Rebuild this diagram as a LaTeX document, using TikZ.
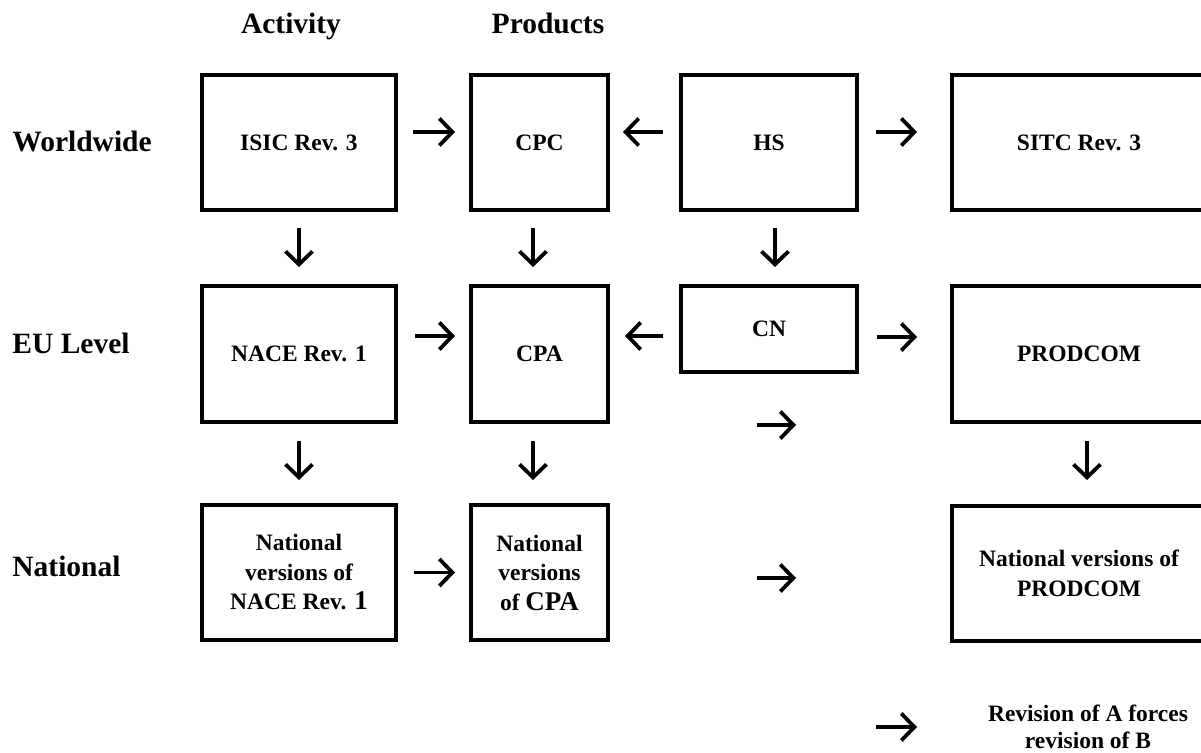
\documentclass[tikz,border=0pt]{standalone}
\usepackage{fontspec}
\setmainfont{Liberation Serif}
\usetikzlibrary{arrows.meta}
\begin{document}
\begin{tikzpicture}[x=0.5pt,y=-0.5pt,
  box/.style={draw, line width=1.7pt, inner sep=0pt, outer sep=0pt, align=center,
    font=\fontsize{11.75}{14.75}\selectfont\bfseries},
  txt/.style={inner sep=0pt, align=center, font=\fontsize{11.75}{13.5}\selectfont\bfseries},
  lbl/.style={inner sep=0pt, font=\fontsize{14.75}{17}\selectfont\bfseries},
  arr/.style={line width=1.9pt, -{Straight Barb[length=6.5pt,width=13.5pt]}},
  wide/.style={minimum width=97pt},
  narrow/.style={minimum width=68.5pt},
  mid/.style={minimum width=88pt},
  big/.style={minimum width=127pt},
  tall/.style={minimum height=67.5pt}
]
\useasboundingbox (0,0) rectangle (1201,753);
\clip (0,0) rectangle (1201,753);
\fill[white] (0,0) rectangle (1201,753);

% headers and row labels
\node[lbl, anchor=base] (act) at (291,34) {Activity};
\node[lbl, anchor=base] (prod) at (548,34) {Products};
\node[lbl, anchor=base west] (ww) at (12,152) {Worldwide};
\node[lbl, anchor=base west] (eu) at (12,354) {EU Level};
\node[lbl, anchor=base west] (nat) at (12,577) {National};

% row 1
\node[box, wide, tall] (isic) at (299,142.5) {ISIC Rev. 3};
\node[box, narrow, tall] (cpc) at (539.5,142.5) {CPC};
\node[box, mid, tall] (hs) at (769,142.5) {HS};
\node[box, big, tall] (sitc) at (1079,142.5) {SITC Rev. 3};

% row 2
\node[box, wide, minimum height=68pt] (nace) at (299,354) {NACE Rev. 1};
\node[box, narrow, minimum height=68pt] (cpa) at (539.5,354) {CPA};
\node[box, mid, minimum height=43pt] (cn) at (769,329) {CN};
\node[box, big, minimum height=68pt] (prodcom) at (1079,354) {PRODCOM};

% row 3
\node[box, wide, tall] (nnace) at (299,572.5)
  {National\\versions of\\NACE Rev. {\fontsize{13.5}{14.75}\selectfont 1}};
\node[box, narrow, tall] (ncpa) at (539.5,572.5)
  {National\\versions\\of {\fontsize{13.5}{14.75}\selectfont CPA}};
\node[box, big, tall] (nprod) at (1079,573.5) {National versions of\\PRODCOM};

% legend
\node[txt] (leg) at (1088,727) {Revision of A forces\\revision of B};

% free arrow end points
\coordinate (f1a) at (757,425);
\coordinate (f1b) at (796,425);
\coordinate (f2a) at (757,578);
\coordinate (f2b) at (796,578);
\coordinate (la) at (876,727);
\coordinate (lb) at (917,727);

% row 1 horizontal
\draw[arr, shorten <=8.5pt, shorten >=8pt] ([yshift=5.25pt]isic.east) -- ([yshift=5.25pt]cpc.west);
\draw[arr, shorten <=9pt, shorten >=7.5pt] ([yshift=5.25pt]hs.west) -- ([yshift=5.25pt]cpc.east);
\draw[arr, shorten <=9.5pt, shorten >=17.5pt] ([yshift=5.25pt]hs.east) -- ([yshift=5.25pt]sitc.west);

% row 1 -> row 2
\draw[arr, shorten <=9pt, shorten >=9.5pt] (isic.south) -- (nace.north);
\draw[arr, shorten <=9pt, shorten >=9.5pt] ([xshift=-3.25pt]cpc.south) -- ([xshift=-3.25pt]cpa.north);
\draw[arr, shorten <=9pt, shorten >=9.5pt] ([xshift=3pt]hs.south) -- ([xshift=3pt]cn.north);

% row 2 horizontal
\draw[arr, shorten <=9.5pt, shorten >=8pt] ([yshift=9pt]nace.east) -- ([yshift=9pt]cpa.west);
\draw[arr, shorten <=9pt, shorten >=8.5pt] ([yshift=-3.5pt]cn.west) -- ([yshift=9pt]cpa.east);
\draw[arr, shorten <=10pt, shorten >=17.5pt] ([yshift=-4pt]cn.east) -- ([yshift=8.5pt]prodcom.west);
\draw[arr] (f1a) -- (f1b);

% row 2 -> row 3
\draw[arr, shorten <=9.5pt, shorten >=12.5pt] (nace.south) -- (nnace.north);
\draw[arr, shorten <=9.5pt, shorten >=12.5pt] ([xshift=-3.25pt]cpa.south) -- ([xshift=-3.25pt]ncpa.north);
\draw[arr, shorten <=9.5pt, shorten >=13pt] ([xshift=4pt]prodcom.south) -- ([xshift=4pt]nprod.north);

% row 3 horizontal
\draw[arr, shorten <=9pt, shorten >=8pt] (nnace.east) -- (ncpa.west);
\draw[arr] (f2a) -- (f2b);

% legend arrow
\draw[arr] (la) -- (lb);
\end{tikzpicture}
\end{document}
